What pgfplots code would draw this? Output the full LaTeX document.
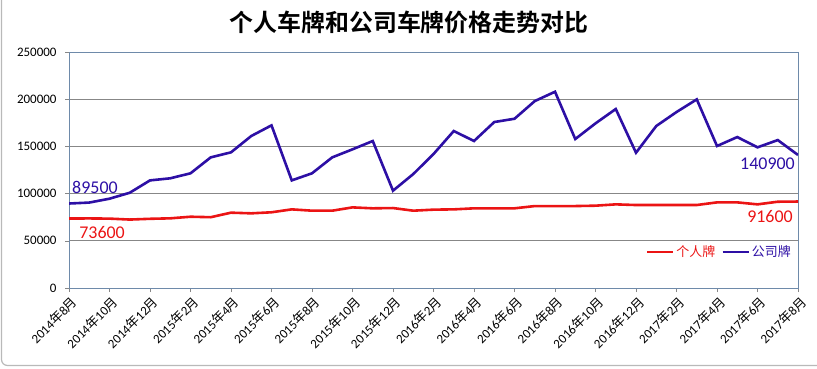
\documentclass[border=0pt]{standalone}
\usepackage{pgfplots}
\pgfplotsset{compat=1.18}
\usepackage{fontspec}
\setmainfont{Carlito}
\newfontfamily\cjk{Noto Sans CJK SC}[BoldFont={Noto Sans CJK SC Bold}]
\definecolor{redline}{RGB}{235,20,20}
\definecolor{blueline}{RGB}{45,15,165}
\definecolor{boxc}{RGB}{110,138,170}
\definecolor{gridc}{RGB}{135,135,135}
\newcommand{\ym}[2]{#1{\cjk 年}#2{\cjk 月}}
\begin{document}
\begin{tikzpicture}[x=1bp,y=1bp]
\path[use as bounding box] (0,0) rectangle (817,368);
\draw[gray!55,line width=1.2bp,rounded corners=6bp] (1.5,2.5) rectangle (830,380);
\node[font=\cjk\bfseries\fontsize{24}{28}\selectfont] at (409,346) {个人车牌和公司车牌价格走势对比};
\begin{axis}[
  at={(69bp,80bp)}, anchor=south west,
  scale only axis, width=729bp, height=236bp,
  xmin=0, xmax=36, ymin=0, ymax=250000,
  xtick={0,2,...,36},
  xticklabels={\ym{2014}{8},\ym{2014}{10},\ym{2014}{12},\ym{2015}{2},\ym{2015}{4},\ym{2015}{6},\ym{2015}{8},\ym{2015}{10},\ym{2015}{12},\ym{2016}{2},\ym{2016}{4},\ym{2016}{6},\ym{2016}{8},\ym{2016}{10},\ym{2016}{12},\ym{2017}{2},\ym{2017}{4},\ym{2017}{6},\ym{2017}{8}},
  ytick={0,50000,...,250000},
  scaled y ticks=false,
  /pgf/number format/assume math mode=true,
  yticklabel style={/pgf/number format/fixed,/pgf/number format/1000 sep={},font=\fontsize{13}{15}\selectfont,xshift=-5bp},
  xticklabel style={rotate=45,anchor=north east,font=\fontsize{13}{15}\selectfont,inner sep=1bp,yshift=-2bp},
  tick align=outside, tick pos=left,
  major tick length=4bp,
  tick style={gridc,line width=0.6bp},
  ymajorgrids, grid style={gridc,line width=0.8bp},
  axis line style={boxc,line width=0.9bp},
  legend columns=2,
  legend style={at={(0.892,0.153)},anchor=center,draw=none,fill=none,
    font=\cjk\fontsize{13}{15}\selectfont,
    /tikz/every even column/.append style={column sep=4bp},
    inner sep=0pt},
  legend image code/.code={\draw[#1,line width=2.6bp] (0,0) -- (26bp,0);},
]
\addplot[redline,line width=2.6bp] table {
x y
0 73600
1 73700
2 73500
3 72500
4 73300
5 73800
6 75500
7 75000
8 79800
9 79100
10 80200
11 83300
12 81900
13 81900
14 85400
15 84400
16 84700
17 81900
18 83000
19 83300
20 84400
21 84400
22 84400
23 86800
24 86800
25 86800
26 87200
27 88600
28 87900
29 87900
30 87900
31 87900
32 90700
33 90700
34 88600
35 91400
36 91600
};
\addlegendentry{\textcolor{redline}{个人牌}}
\addplot[blueline,line width=2.6bp] table {
x y
0 89500
1 90500
2 94600
3 100900
4 114000
5 116200
6 121500
7 138400
8 143700
9 161000
10 172300
11 114000
12 121500
13 138400
14 146900
15 155700
16 103100
17 120700
18 141900
19 166300
20 155700
21 175800
22 179300
23 198000
24 207900
25 157800
26 174400
27 189600
28 143300
29 171600
30 186400
31 199800
32 150400
33 159900
34 149000
35 156700
36 140900
};
\addlegendentry{\textcolor{blueline}{公司牌}}
\node[anchor=west,text=blueline,font=\fontsize{18}{20}\selectfont,inner sep=0pt] at (axis cs:0.15,107000) {89500};
\node[anchor=west,text=redline,font=\fontsize{18}{20}\selectfont,inner sep=0pt] at (axis cs:0.5,59300) {73600};
\node[anchor=east,text=blueline,font=\fontsize{18}{20}\selectfont,inner sep=0pt] at (axis cs:35.85,131300) {140900};
\node[anchor=east,text=redline,font=\fontsize{18}{20}\selectfont,inner sep=0pt] at (axis cs:35.75,76200) {91600};
\end{axis}
\end{tikzpicture}
\end{document}
